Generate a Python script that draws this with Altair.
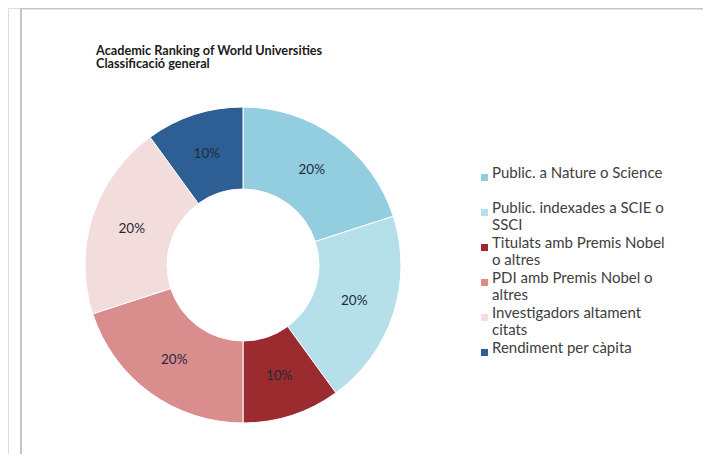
import altair as alt
import pandas as pd

categories = [
    "Public. a Nature o Science",
    "Public. indexades a SCIE o SSCI",
    "Titulats amb Premis Nobel o altres",
    "PDI amb Premis Nobel o altres",
    "Investigadors altament citats",
    "Rendiment per càpita",
]
weights = [20, 20, 10, 20, 20, 10]
colors = ["#92cde0", "#b6e0e9", "#9b2b2e", "#d98d8d", "#f3dcdc", "#2d5f95"]
legend_lines = [
    ["Public. a Nature o Science"],
    ["Public. indexades a SCIE o", "SSCI"],
    ["Titulats amb Premis Nobel", "o altres"],
    ["PDI amb Premis Nobel o", "altres"],
    ["Investigadors altament", "citats"],
    ["Rendiment per càpita"],
]
title_lines = ["Academic Ranking of World Universities", "Classificació general"]

df = pd.DataFrame({"criteri": categories, "pes": weights, "ordre": list(range(len(categories)))})
df["etiqueta"] = [f"{w}%" for w in weights]


def js_str(s):
    return "'" + s.replace("'", "\\'") + "'"


label_expr = "datum.label"
for cat, lines in reversed(list(zip(categories, legend_lines))):
    arr = "[" + ", ".join(js_str(l) for l in lines) + "]"
    label_expr = f"datum.label == {js_str(cat)} ? {arr} : ({label_expr})"

base = alt.Chart(df).encode(
    theta=alt.Theta("pes:Q", stack=True),
    order=alt.Order("ordre:Q", sort="ascending"),
)

arcs = base.mark_arc(outerRadius=158, innerRadius=76, stroke="white", strokeWidth=1).encode(
    x=alt.value(235),
    y=alt.value(257),
    color=alt.Color(
        "criteri:N",
        sort=categories,
        scale=alt.Scale(domain=categories, range=colors),
        legend=alt.Legend(
            title=None,
            orient="none",
            legendX=469,
            legendY=162,
            symbolType="square",
            symbolSize=49,
            symbolStrokeWidth=0,
            labelFont="Lato",
            labelFontSize=15,
            labelColor="#404040",
            labelLimit=400,
            labelOffset=0,
            labelExpr=label_expr,
            labelBaseline="alphabetic",
            gridAlign="all",
            rowPadding=2,
            padding=0,
        ),
    ),
)

labels = base.mark_text(radius=117, font="Lato", fontSize=13.5, color="#1f2b3a").encode(
    x=alt.value(235),
    y=alt.value(257),
    text="etiqueta:N",
)

frame_df = pd.DataFrame({"k": [0]})
top_rule = alt.Chart(frame_df).mark_rule(color="#c4c4c4", strokeWidth=2).encode(
    x=alt.value(13), x2=alt.value(695), y=alt.value(0.5)
)
left_rule = alt.Chart(frame_df).mark_rule(color="#c4c4c4", strokeWidth=2).encode(
    x=alt.value(13), y=alt.value(0), y2=alt.value(446)
)

chart = (
    alt.layer(top_rule, left_rule, arcs, labels)
    .properties(
        width=695,
        height=446,
        autosize=alt.AutoSizeParams(type="none"),
        padding=0,
        title=alt.TitleParams(
            text=title_lines,
            anchor="start",
            frame="group",
            orient="top",
            font="Lato",
            fontSize=12.7,
            fontWeight="bold",
            color="#1a1a1a",
            baseline="top",
            lineHeight=13.5,
            offset=0,
            dx=88,
            dy=64,
        ),
    )
    .configure_view(stroke=None, strokeWidth=0)
    .configure(background="white")
)

chart.save("out.html", embed_options={"renderer": "svg", "actions": False})
